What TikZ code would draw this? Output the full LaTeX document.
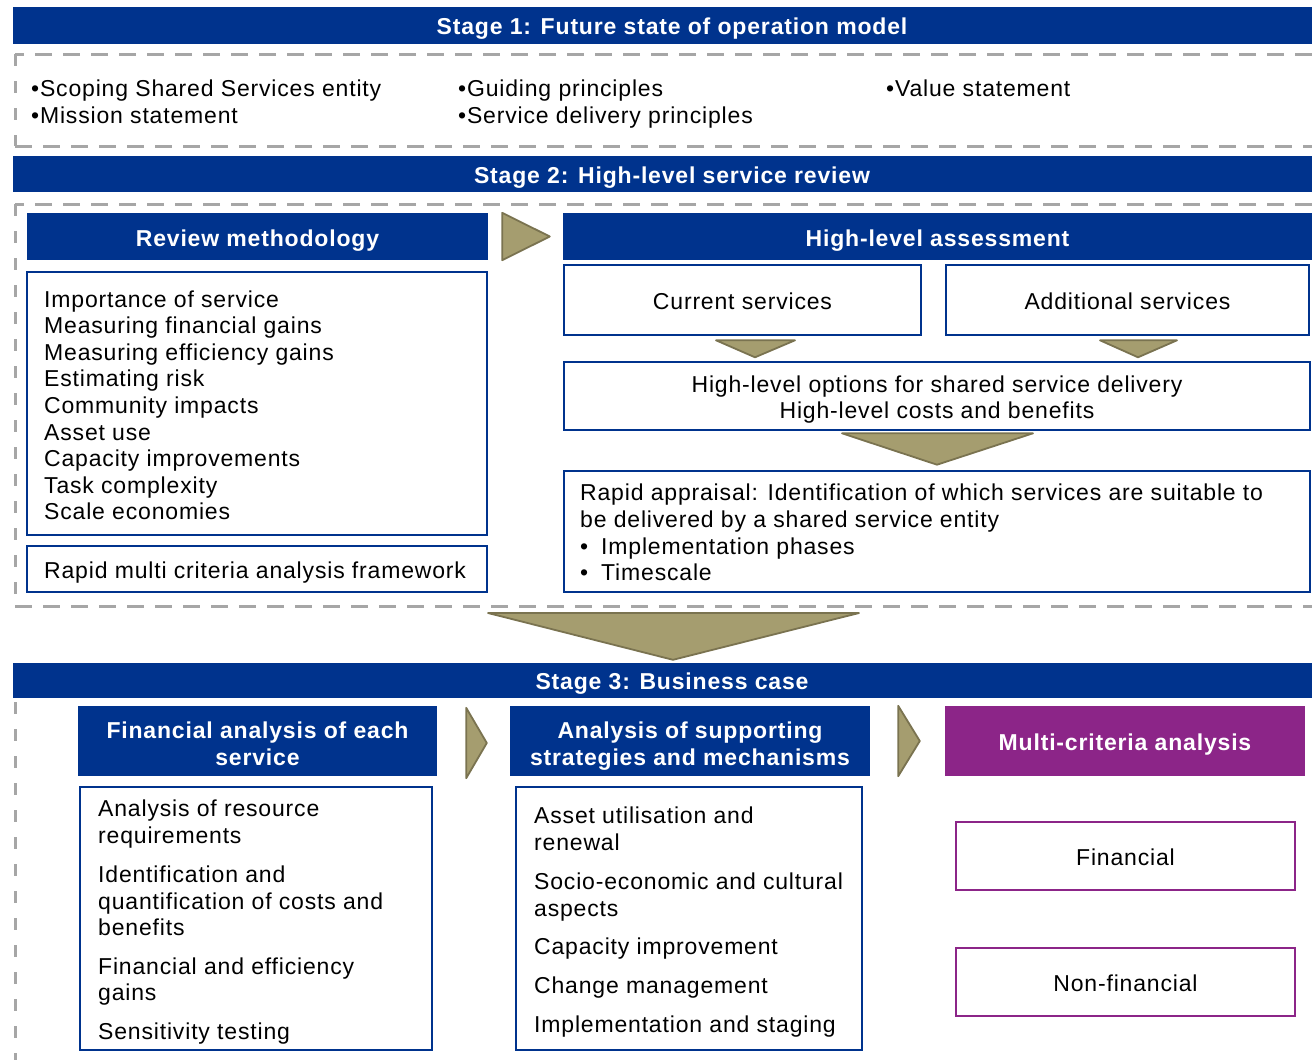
\documentclass[tikz,border=0pt]{standalone}
\usepackage{fontspec}
\setmainfont{Liberation Sans}[LetterSpace=3.6]
\usetikzlibrary{calc}
\definecolor{bblue}{RGB}{0,51,141}
\definecolor{ppurple}{RGB}{140,37,136}
\definecolor{olivef}{RGB}{165,157,111}
\definecolor{olived}{RGB}{122,115,80}
\definecolor{dgray}{RGB}{166,166,166}
\tikzset{
  bar/.style={fill=bblue, draw=none, inner sep=0pt, text=white, font=\fontsize{23}{26.5}\selectfont\bfseries, text height=18.5pt, text depth=0pt},
  hdr/.style={fill=bblue, draw=none, inner sep=0pt, text=white, font=\fontsize{23}{26.5}\selectfont\bfseries, text height=19pt, text depth=0pt},
  phdr/.style={hdr, fill=ppurple},
  bbox/.style={draw=bblue, line width=2.6pt, fill=white, inner sep=0pt, font=\fontsize{23}{26.5}\selectfont, text height=18.5pt, text depth=0pt},
  pbox/.style={bbox, draw=ppurple},
  txt/.style={inner sep=0pt, anchor=base west, font=\fontsize{23}{26.5}\selectfont},
  ctxt/.style={txt, anchor=base},
  wtxt/.style={ctxt, text=white, font=\fontsize{23}{26.5}\selectfont\bfseries},
  hdash/.style={draw=dgray, line width=3pt, dash pattern=on 17pt off 11pt},
  vdash/.style={draw=dgray, line width=3pt, dash pattern=on 12pt off 15pt},
  tri/.style={fill=olivef, draw=olived, line width=1.8pt, line join=round},
}
\begin{document}
\begin{tikzpicture}[x=1pt, y=-1pt]
\useasboundingbox (0,0) rectangle (1312,1060);
\clip (0,0) rectangle (1312,1060);

% ---------- Stage 1 ----------
\node[bar, minimum width=1318pt, minimum height=37pt] (s1) at (672,25.5) {Stage 1: Future state of operation model};
\draw[hdash] (1340,54) -- (15,54);
\draw[vdash] (15,54) -- (15,146);
\draw[hdash] (15,146) -- (1340,146);
\node[txt] (s1a) at (31,96) {•Scoping Shared Services entity};
\node[txt] (s1b) at (31,123) {•Mission statement};
\node[txt] (s1c) at (458,96) {•Guiding principles};
\node[txt] (s1d) at (458,123) {•Service delivery principles};
\node[txt] (s1e) at (886,96) {•Value statement};

% ---------- Stage 2 ----------
\node[bar, minimum width=1318pt, minimum height=36pt] (s2) at (672,174) {Stage 2: High-level service review};
\draw[hdash] (1340,204) -- (15,204);
\draw[vdash] (15,204) -- (15,606);
\draw[hdash] (15,606) -- (1340,606);

\node[hdr, minimum width=461pt, minimum height=47pt] (rm) at (257.5,236.5) {Review methodology};
\node[hdr, minimum width=749pt, minimum height=47pt] (hla) at (937.5,236.5) {High-level assessment};
\draw[tri] ($(rm.north east)+(14,0)$) -- ($(rm.south east)+(14,0)$) -- ($(hla.west)+(-13,0)$) -- cycle;

\node[bbox, minimum width=460pt, minimum height=263pt] (lst) at (257,403.5) {};
\foreach \t [count=\i] in {Importance of service, Measuring financial gains, Measuring efficiency gains, Estimating risk, Community impacts, Asset use, Capacity improvements, Task complexity, Scale economies}
  \node[txt] (lst\i) at (44,{280.5+26.6*\i}) {\t};
\node[bbox, minimum width=460pt, minimum height=46pt] (rmca) at (257,569) {};
\node[txt] (rmcat) at (44,578) {Rapid multi criteria analysis framework};

\node[bbox, minimum width=357pt, minimum height=70pt] (cs) at (742.5,300) {Current services};
\node[bbox, minimum width=363pt, minimum height=70pt] (as) at (1127.5,300) {Additional services};
\node[bbox, minimum width=746pt, minimum height=68pt] (opt) at (937,396) {};
\node[ctxt] (opt1) at (937,392) {High-level options for shared service delivery};
\node[ctxt] (opt2) at (937,418) {High-level costs and benefits};
\draw[tri] ($(cs.south)+(-26.5,4)$) -- ($(cs.south)+(52.5,4)$) -- ($(cs.south)+(12.5,21)$) -- cycle;
\draw[tri] ($(as.south)+(-27.5,4)$) -- ($(as.south)+(49.5,4)$) -- ($(as.south)+(10.5,21)$) -- cycle;

\node[bbox, minimum width=746pt, minimum height=121pt] (ra) at (937,531.5) {};
\draw[tri] ($(opt.south)+(-95,2)$) -- ($(opt.south)+(96,2)$) -- ($(ra.north)+(0,-5)$) -- cycle;
\node[txt] (ra1) at (580,500) {Rapid appraisal: Identification of which services are suitable to};
\node[txt] (ra2) at (580,527) {be delivered by a shared service entity};
\node[txt] (ra3b) at (580,554) {•};
\node[txt] (ra3) at (601,554) {Implementation phases};
\node[txt] (ra4b) at (580,580) {•};
\node[txt] (ra4) at (601,580) {Timescale};

% ---------- Stage 3 ----------
\node[bar, minimum width=1318pt, minimum height=35pt] (s3) at (672,680.5) {Stage 3: Business case};
\draw[tri] (488,613) -- (859,613) -- ($(s3.north)+(1,-3)$) -- cycle;
\draw[vdash] (15,702) -- (15,1070);

\node[hdr, minimum width=359pt, minimum height=70pt] (fa) at (257.5,741) {};
\node[wtxt] (fa1) at (257.5,738) {Financial analysis of each};
\node[wtxt] (fa2) at (257.5,765) {service};
\node[hdr, minimum width=360pt, minimum height=70pt] (asm) at (690,741) {};
\node[wtxt] (asm1) at (690,738) {Analysis of supporting};
\node[wtxt] (asm2) at (690,765) {strategies and mechanisms};
\node[phdr, minimum width=360pt, minimum height=70pt] (mca) at (1125,741) {Multi-criteria analysis};

\draw[tri] ($(fa.north east)+(29,2)$) -- ($(fa.south east)+(29,2)$) -- ($(asm.west)+(-23,2)$) -- cycle;
\draw[tri] ($(asm.north east)+(28,0)$) -- ($(asm.south east)+(28,0)$) -- ($(mca.west)+(-25,0)$) -- cycle;

\node[bbox, minimum width=352pt, minimum height=263pt] (fal) at (256,918.5) {};
\foreach \t/\y [count=\i] in {Analysis of resource/816, requirements/843, Identification and/882, quantification of costs and/909, benefits/935, Financial and efficiency/974, gains/1000, Sensitivity testing/1039}
  \node[txt] (fal\i) at (98,\y) {\t};

\node[bbox, minimum width=346pt, minimum height=263pt] (asl) at (689,918.5) {};
\foreach \t/\y [count=\i] in {Asset utilisation and/823, renewal/850, Socio-economic and cultural/889, aspects/916, Capacity improvement/954, Change management/993, Implementation and staging/1032}
  \node[txt] (asl\i) at (534,\y) {\t};

\node[pbox, minimum width=339pt, minimum height=68pt] (fin) at (1125.5,856) {Financial};
\node[pbox, minimum width=339pt, minimum height=68pt] (nfin) at (1125.5,982) {Non-financial};
\end{tikzpicture}
\end{document}
